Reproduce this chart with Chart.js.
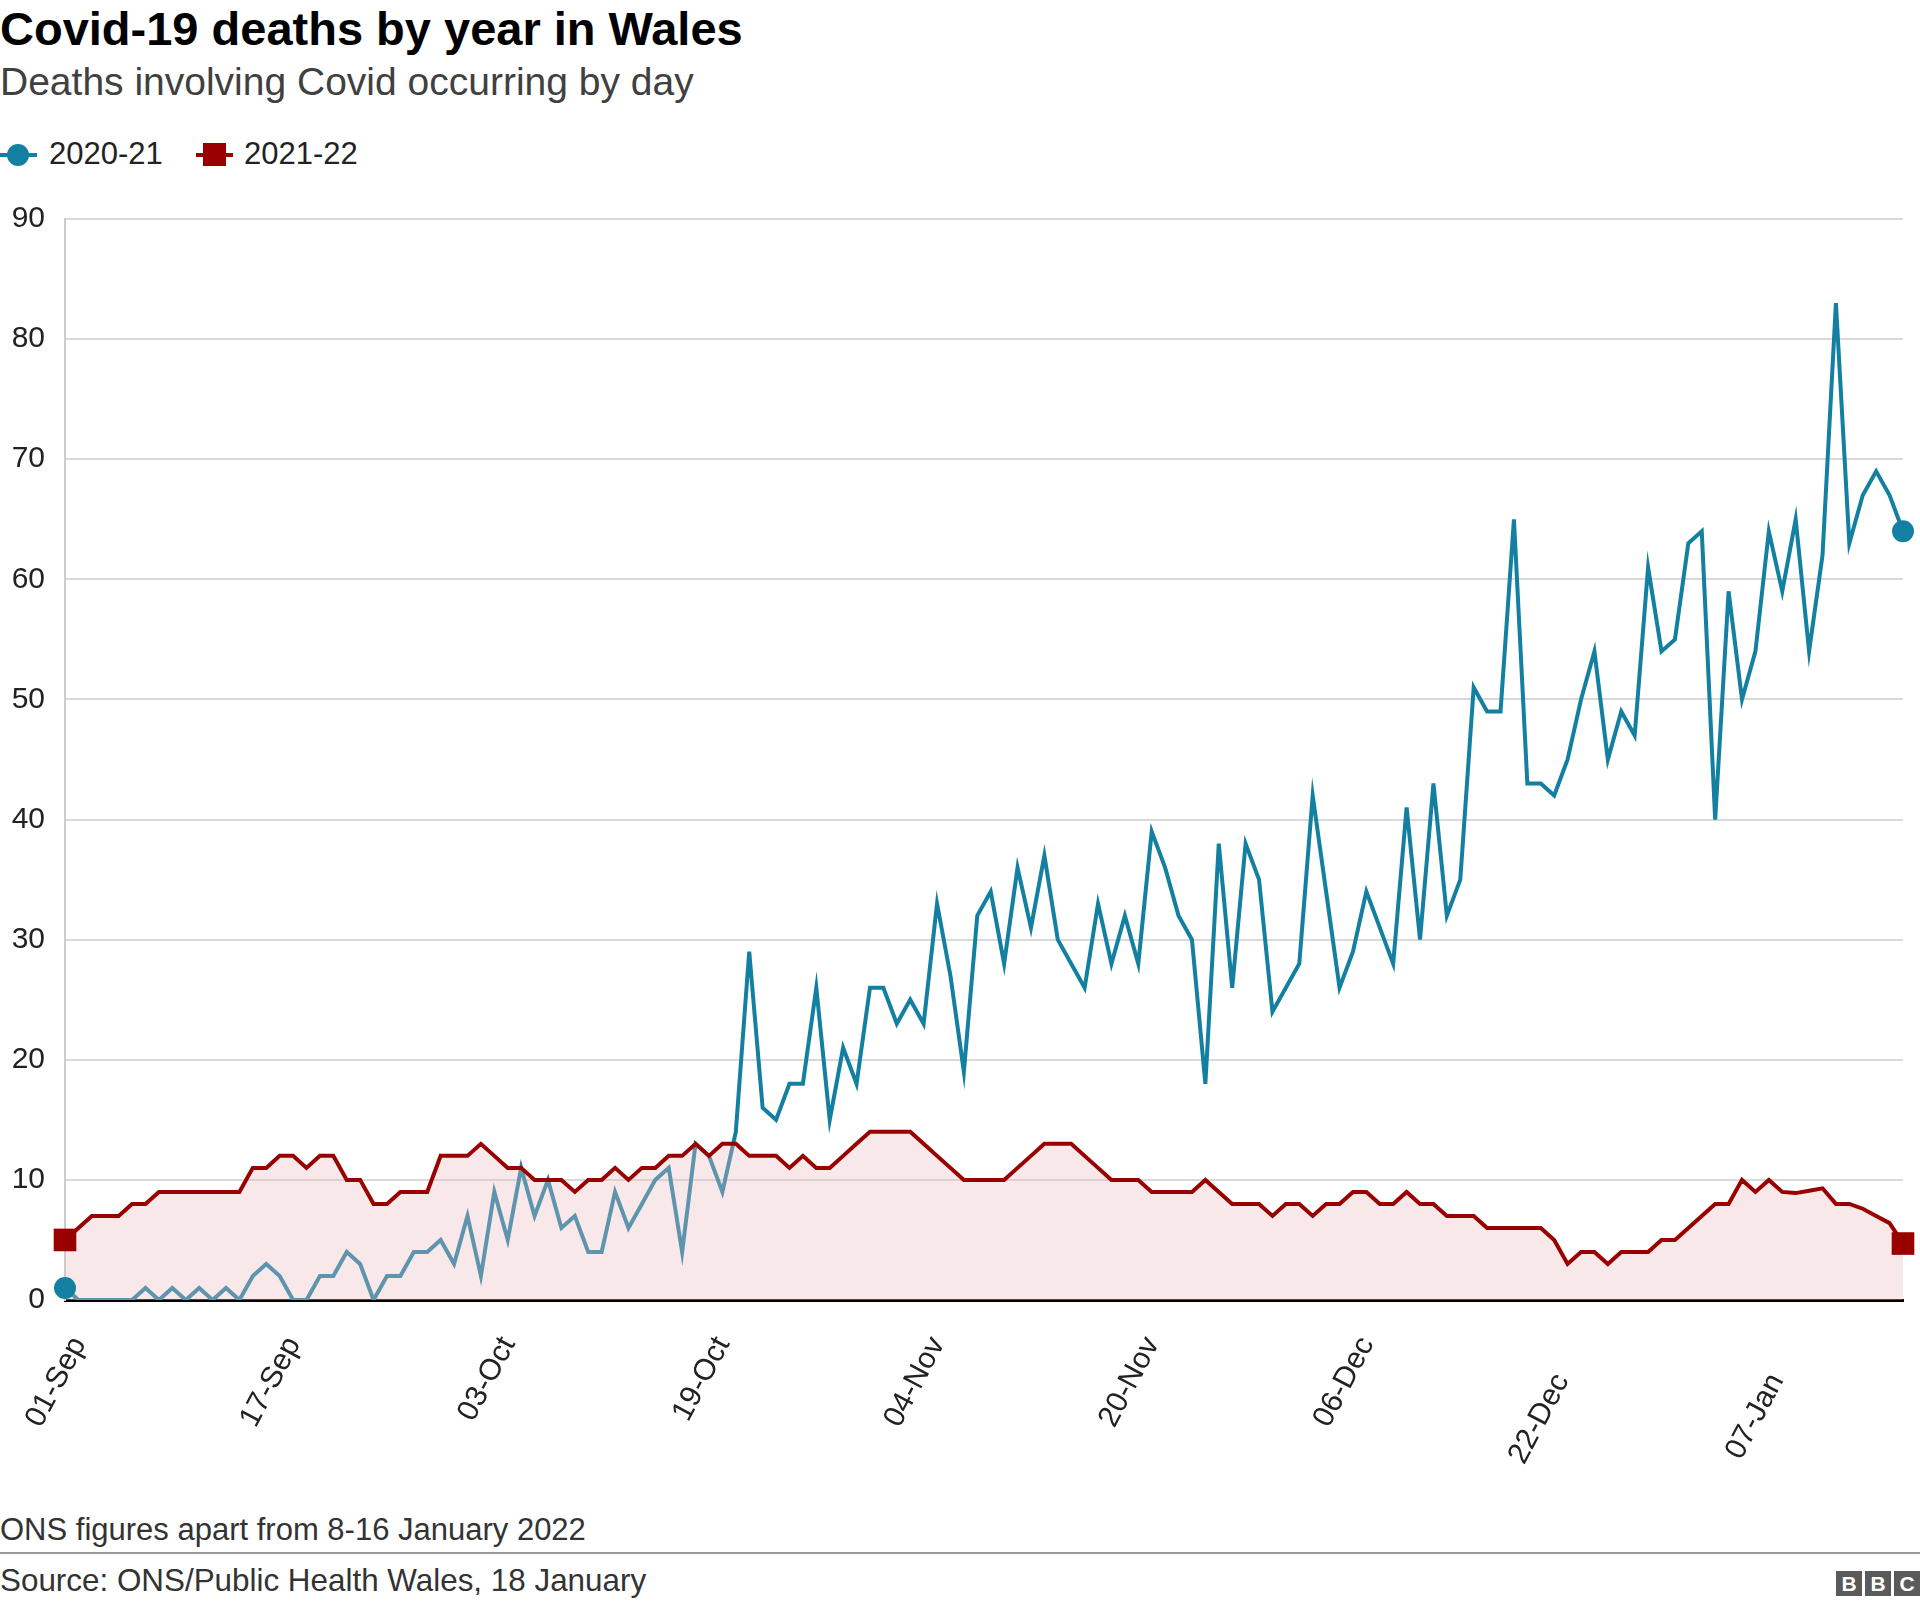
<!DOCTYPE html>
<html lang="en">
<head>
<meta charset="UTF-8">
<title>Covid-19 deaths by year in Wales</title>
<script src="https://cdn.jsdelivr.net/npm/chart.js@4.4.1/dist/chart.umd.min.js"></script>
<style>
  body { margin: 0; background: #fff; font-family: "Liberation Sans", Arial, sans-serif; }
  #page { position: relative; width: 1920px; height: 1607px; overflow: hidden; }
  .txt { position: absolute; left: 0; white-space: nowrap; line-height: 1; }
  #title { top: 5px; font-size: 47px; font-weight: bold; color: #000; }
  #subtitle { top: 62px; font-size: 39px; color: #404040; }
  #legend { position: absolute; top: 138px; left: 0; font-size: 31px; color: #222; line-height: 1; }
  .item { position: absolute; top: 0; white-space: nowrap; }
  .key { position: absolute; top: 15px; width: 37px; height: 4px; }
  .key i { position: absolute; display: block; }
  #chartBox { position: absolute; left: 0; top: 180px; }
  #note { top: 1514px; font-size: 31px; color: #333; }
  #rule { position: absolute; left: 0; top: 1552px; width: 1920px; height: 2px; background: #999; }
  #source { top: 1565px; font-size: 31.4px; color: #333; }
  #bbc { position: absolute; right: 0; top: 1571px; display: flex; gap: 3px; }
  #bbc span { display: block; width: 26px; height: 25px; background: #5a5a5a;
              color: #fff; font-weight: bold; font-size: 21px; line-height: 25px; text-align: center; }
</style>
</head>
<body>
<div id="page">
  <div id="title" class="txt">Covid-19 deaths by year in Wales</div>
  <div id="subtitle" class="txt">Deaths involving Covid occurring by day</div>
  <div id="legend">
    <div class="key" style="left:0;background:#1380a1"><i style="left:7px;top:-9px;width:22px;height:22px;border-radius:50%;background:#1380a1"></i></div>
    <div class="item" style="left:49px">2020-21</div>
    <div class="key" style="left:196px;background:#990000"><i style="left:7px;top:-10px;width:23px;height:23px;background:#990000"></i></div>
    <div class="item" style="left:244px">2021-22</div>
  </div>
  <div id="chartBox"><canvas id="chart" width="1920" height="1300"></canvas></div>
  <div id="note" class="txt">ONS figures apart from 8-16 January 2022</div>
  <div id="rule"></div>
  <div id="source" class="txt">Source: ONS/Public Health Wales, 18 January</div>
  <div id="bbc"><span>B</span><span>B</span><span>C</span></div>
</div>
<script>
// daily deaths, 1 Sep -> 16 Jan
const deaths2020 = [1, 0, 0, 0, 0, 0, 1, 0, 1, 0, 1, 0, 1, 0, 2, 3, 2, 0, 0, 2,
  2, 4, 3, 0, 2, 2, 4, 4, 5, 3, 7, 2, 9, 5, 11, 7, 10, 6, 7, 4,
  4, 9, 6, 8, 10, 11, 4, 13, 12, 9, 14, 29, 16, 15, 18, 18, 26, 15, 21, 18,
  26, 26, 23, 25, 23, 33, 27, 19, 32, 34, 28, 36, 31, 37, 30, 28, 26, 33, 28, 32,
  28, 39, 36, 32, 30, 18, 38, 26, 38, 35, 24, 26, 28, 42, 34, 26, 29, 34, 31, 28,
  41, 30, 43, 32, 35, 51, 49, 49, 65, 43, 43, 42, 45, 50, 54, 45, 49, 47, 61, 54,
  55, 63, 64, 40, 59, 50, 54, 64, 59, 65, 54, 62, 83, 63, 67, 69, 67, 64];
const deaths2021 = [5, 6, 7, 7, 7, 8, 8, 9, 9, 9, 9, 9, 9, 9, 11, 11, 12, 12, 11, 12,
  12, 10, 10, 8, 8, 9, 9, 9, 12, 12, 12, 13, 12, 11, 11, 10, 10, 10, 9, 10,
  10, 11, 10, 11, 11, 12, 12, 13, 12, 13, 13, 12, 12, 12, 11, 12, 11, 11, 12, 13,
  14, 14, 14, 14, 13, 12, 11, 10, 10, 10, 10, 11, 12, 13, 13, 13, 12, 11, 10, 10,
  10, 9, 9, 9, 9, 10, 9, 8, 8, 8, 7, 8, 8, 7, 8, 8, 9, 9, 8, 8,
  9, 8, 8, 7, 7, 7, 6, 6, 6, 6, 6, 5, 3, 4, 4, 3, 4, 4, 4, 5,
  5, 6, 7, 8, 8, 10, 9, 10, 9, 8.9, 9.1, 9.3, 8, 8, 7.6, 7, 6.4, 4.7];
const tickLabels = ['01-Sep', '17-Sep', '03-Oct', '19-Oct', '04-Nov', '20-Nov', '06-Dec', '22-Dec', '07-Jan'];
// these two sit lower on the original axis
const pushedDown = ['22-Dec', '07-Jan'];

const months = ['Jan','Feb','Mar','Apr','May','Jun','Jul','Aug','Sep','Oct','Nov','Dec'];
const days = [];
for (let i = 0; i < deaths2020.length; i++) {
  const d = new Date(Date.UTC(2020, 8, 1 + i));
  days.push(String(d.getUTCDate()).padStart(2, '0') + '-' + months[d.getUTCMonth()]);
}

const last = deaths2020.length - 1;
const ends = arr => arr.map((v, i) => (i === 0 || i === last) ? v : null);

const BLUE = '#1380a1', RED = '#990000';
Chart.defaults.font.family = '"Liberation Sans", Arial, sans-serif';

new Chart(document.getElementById('chart').getContext('2d'), {
  type: 'line',
  data: {
    labels: days,
    datasets: [
      { label: '2020-21 ends', data: ends(deaths2020), showLine: false, pointRadius: 11, pointHoverRadius: 11,
        pointBackgroundColor: BLUE, pointBorderWidth: 0, clip: false, order: -1 },
      { label: '2021-22 ends', data: ends(deaths2021), showLine: false, pointStyle: 'rect', pointRadius: 16,
        pointHoverRadius: 16, pointBackgroundColor: RED, pointBorderWidth: 0, clip: false, order: -1 },
      { label: '2020-21', data: deaths2020, borderColor: BLUE, borderWidth: 4, pointRadius: 0,
        fill: false, tension: 0, order: 1 },
      { label: '2021-22', data: deaths2021, borderColor: RED, borderWidth: 4, pointRadius: 0,
        backgroundColor: 'rgba(236,190,194,0.35)', fill: 'origin', tension: 0, order: 0 }
    ]
  },
  options: {
    responsive: false,
    animation: false,
    layout: { padding: { top: 39, right: 17, left: 0, bottom: 0 } },
    plugins: { legend: { display: false }, tooltip: { enabled: false } },
    scales: {
      x: {
        grid: { display: false, drawTicks: false },
        border: { display: true, color: '#000', width: 3 },
        ticks: {
          autoSkip: false, minRotation: 62, maxRotation: 62, padding: 31, labelOffset: 14,
          color: '#222', font: { size: 30 },
          callback: (v, i) => {
            const lab = days[i];
            if (!tickLabels.includes(lab)) return '';
            return pushedDown.includes(lab) ? lab + '\u00a0\u00a0\u00a0\u00a0\u00a0' : lab;
          }
        },
        afterFit: s => { s.height = 180; s.paddingLeft = 0; s.paddingRight = 0; }
      },
      y: {
        min: 0, max: 90,
        ticks: { stepSize: 10, padding: 20, color: '#222', font: { size: 30 } },
        grid: { color: '#d9d9d9', lineWidth: 2, drawTicks: false },
        border: { display: true, color: '#cccccc', width: 2 },
        afterFit: s => { s.width = 65; }
      }
    }
  }
});
</script>
</body>
</html>
